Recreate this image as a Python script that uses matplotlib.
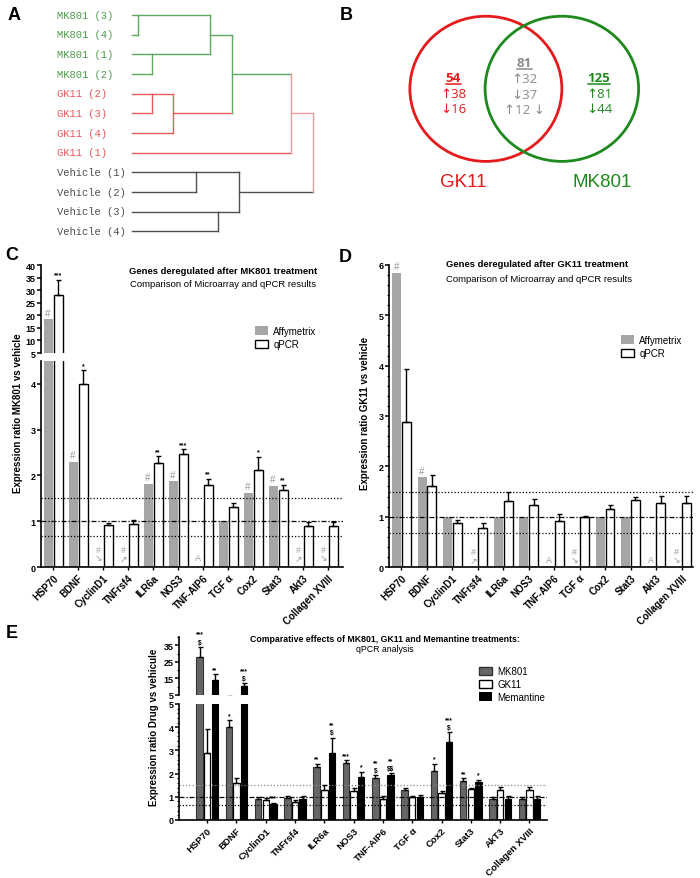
import numpy as np
import matplotlib.pyplot as plt
from matplotlib.patches import Ellipse, Patch
from matplotlib.ticker import MultipleLocator
from matplotlib.transforms import blended_transform_factory

plt.rcParams['font.family'] = ['Liberation Sans', 'DejaVu Sans']

# ---------------------------------------------------------
# Data
# ---------------------------------------------------------
leaves = ["MK801 (3)", "MK801 (4)", "MK801 (1)", "MK801 (2)",
          "GK11 (2)", "GK11 (3)", "GK11 (4)", "GK11 (1)",
          "Vehicle (1)", "Vehicle (2)", "Vehicle (3)", "Vehicle (4)"]
leaf_group = ["MK801"] * 4 + ["GK11"] * 4 + ["Vehicle"] * 4
# scipy-like linkage: (node a, node b, distance); new nodes numbered from 12
merges = [(0, 1, 0.06), (2, 3, 0.20), (12, 13, 0.78), (4, 5, 0.20), (15, 6, 0.41),
          (14, 16, 1.00), (17, 7, 1.59), (8, 9, 0.64), (10, 11, 0.86),
          (19, 20, 1.07), (18, 21, 1.81)]
merge_group = ["MK801", "MK801", "MK801", "GK11", "GK11", "MK801", "GK11b",
               "Vehicle", "Vehicle", "Vehicle", "root"]

venn_gk11_only = [54, 38, 16]
venn_shared = [81, 32, 37, 12]
venn_mk801_only = [125, 81, 44]

genes = ["HSP70", "BDNF", "CyclinD1", "TNFrsf4", "ILR6a", "NOS3", "TNF-AIP6",
         "TGF α", "Cox2", "Stat3", "Akt3", "Collagen XVIII"]
genes_e = ["HSP70", "BDNF", "CyclinD1", "TNFrsf4", "ILR6a", "NOS3", "TNF-AIP6",
           "TGF α", "Cox2", "Stat3", "AkT3", "Collagen XVIII"]
nan = np.nan

affy_mk801 = [18.5, 2.30, nan, nan, 1.82, 1.88, nan, 1.00, 1.62, 1.78, nan, nan]
affy_mk801_flags = ["#", "#", "#\n↘", "#\n↗", "#", "#", "A", "", "#", "#", "#\n↗", "#\n↘"]
qpcr_mk801 = [28.0, 4.00, 0.92, 0.94, 2.27, 2.47, 1.80, 1.30, 2.11, 1.68, 0.89, 0.89]
qpcr_mk801_err = [6.0, 0.30, 0.05, 0.08, 0.15, 0.10, 0.12, 0.10, 0.30, 0.12, 0.10, 0.10]
qpcr_mk801_stars = ["***", "*", "", "", "**", "***", "**", "", "*", "**", "", ""]

affy_gk11 = [5.85, 1.78, 1.00, nan, 1.00, 1.00, nan, nan, 1.00, 1.00, nan, nan]
affy_gk11_flags = ["#", "#", "", "#\n↗", "", "", "A", "#\n↘", "", "", "A", "#\n↘"]
qpcr_gk11 = [2.88, 1.61, 0.87, 0.77, 1.31, 1.24, 0.92, 0.99, 1.16, 1.33, 1.28, 1.28]
qpcr_gk11_err = [1.05, 0.22, 0.07, 0.10, 0.19, 0.12, 0.13, 0.03, 0.08, 0.07, 0.14, 0.14]

memantine = [14.0, 10.5, 0.70, 0.92, 2.90, 1.87, 1.94, 1.00, 3.37, 1.62, 0.90, 0.90]
memantine_err = [3.5, 1.5, 0.04, 0.11, 0.65, 0.21, 0.08, 0.09, 0.41, 0.10, 0.12, 0.12]
e_mk801_marks = ["***\n$", "*", "", "", "**", "***", "**\n$", "", "*", "**", "", ""]
e_mem_marks = ["**", "***\n$", "***", "", "**\n$", "*", "**\n$$", "", "***\n$", "*", "", ""]

# ---------------------------------------------------------
# Figure helpers
# ---------------------------------------------------------
W, H = 700, 879
fig = plt.figure(figsize=(W / 100, H / 100), dpi=100)


def px_axes(left, top, right, bottom):
    return fig.add_axes([left / W, 1 - bottom / H, (right - left) / W, (bottom - top) / H])


def fig_text(x, y, s, **kw):
    fig.text(x / W, 1 - y / H, s, **kw)


def style_axis(ax, yticks, minor=None, show_bottom=True):
    for s in ["top", "right"]:
        ax.spines[s].set_visible(False)
    ax.spines["left"].set_linewidth(1.2)
    ax.spines["bottom"].set_linewidth(1.2)
    ax.spines["bottom"].set_visible(show_bottom)
    ax.set_yticks(yticks, labels=[f"{t:g}" for t in yticks], fontweight="bold", fontsize=6.5)
    ax.tick_params(axis="y", direction="out", length=3, width=1.1, pad=1)
    ax.tick_params(axis="y", which="minor", direction="out", length=1.5, width=0.8)
    if minor:
        ax.yaxis.set_minor_locator(MultipleLocator(minor))


def add_bars(axes, xs, vals, errs, width, **kw):
    for ax in axes:
        ax.bar(xs, vals, width=width, **kw)
        if errs is not None:
            ax.errorbar(xs, vals, yerr=[np.zeros(len(vals)), errs], fmt="none",
                        ecolor="black", elinewidth=1, capsize=1.8, capthick=1)


def add_marks(ax_low, ax_up, brk, xs, tops, marks, size=5, color="black", weight="bold"):
    for x, t, m in zip(xs, tops, marks):
        if not m or np.isnan(t):
            continue
        ax = ax_up if (ax_up is not None and t > brk) else ax_low
        ax.annotate(m, (x, t), xytext=(0, 1), textcoords="offset points", ha="center",
                    va="bottom", fontsize=size, color=color, fontweight=weight,
                    linespacing=1.2, annotation_clip=False, parse_math=False)


def ref_lines(ax, c15="black"):
    ax.axhline(1.5, ls=(0, (1, 1.6)), color=c15, lw=0.9)
    ax.axhline(1.0, ls=(0, (4, 1.5, 1, 1.5)), color="black", lw=0.9)
    ax.axhline(0.667, ls=(0, (1, 1.6)), color="black", lw=0.9)


def missing_flags(ax, xs, vals, flags, y, size=6.5):
    for x, v, f in zip(xs, vals, flags):
        if f and np.isnan(v):
            ax.text(x, y, f, ha="center", va="bottom", fontsize=size, color="#9a9a9a",
                    linespacing=0.9)


# ---------------------------------------------------------
# A: dendrogram
# ---------------------------------------------------------
text_colors = {"MK801": "#4f9a4f", "GK11": "#e8585a", "Vehicle": "#505050"}
tree_colors = {"MK801": "#5fa85f", "GK11": "#e85a5a", "GK11b": "#f29a9a",
               "Vehicle": "#505050", "root": "#cfa6a6"}

ax_a = px_axes(132, 6, 313, 242)
ax_a.set_xlim(0, 1.81)
ax_a.set_ylim(11.5, -0.5)
ax_a.axis("off")
node_x = [0.0] * len(leaves)
node_y = [float(i) for i in range(len(leaves))]
node_c = [tree_colors[g] for g in leaf_group]
for (a, b, h), g in zip(merges, merge_group):
    c = tree_colors[g]
    ax_a.plot([node_x[a], h], [node_y[a]] * 2, color=node_c[a], lw=1, clip_on=False)
    ax_a.plot([node_x[b], h], [node_y[b]] * 2, color=node_c[b], lw=1, clip_on=False)
    ax_a.plot([h, h], [node_y[a], node_y[b]], color=c, lw=1, clip_on=False)
    both_leaves = a < len(leaves) and b < len(leaves)
    node_x.append(h)
    node_y.append(node_y[a] if both_leaves else (node_y[a] + node_y[b]) / 2)
    node_c.append(c)
trans_a = blended_transform_factory(fig.transFigure, ax_a.transData)
for i, (lab, g) in enumerate(zip(leaves, leaf_group)):
    ax_a.text(57 / W, i, lab, transform=trans_a, family="Liberation Mono", fontsize=7.6,
              color=text_colors[g], va="center", ha="left")

# ---------------------------------------------------------
# B: Venn diagram
# ---------------------------------------------------------
red, green, grey = "#e41a1c", "#1e8a1e", "#8c8c8c"
ax_b = px_axes(400, 10, 650, 200)
ax_b.set_xlim(-1.63, 1.66)
ax_b.set_ylim(-1.45, 1.05)
ax_b.axis("off")
ax_b.add_patch(Ellipse((-0.5, 0), 2.0, 1.91, fill=False, ec=red, lw=2))
ax_b.add_patch(Ellipse((0.5, 0), 2.02, 1.91, fill=False, ec=green, lw=2))

venn_texts = []


def venn_block(x, y0, counts, color, arrows):
    t = ax_b.text(x, y0, str(counts[0]), ha="center", va="center", fontsize=9.5,
                  fontweight="bold", color=color, family=["Open Sans", "DejaVu Sans"])
    venn_texts.append((t, color))
    for k, (arr, n) in enumerate(zip(arrows, counts[1:])):
        ax_b.text(x, y0 - 0.205 * (k + 1), arr.format(n), ha="center", va="center",
                  fontsize=9.5, color=color, family=["Open Sans", "DejaVu Sans"])


venn_block(-0.93, 0.145, venn_gk11_only, red, ["↑{}", "↓{}"])
venn_block(0.01, 0.34, venn_shared, grey, ["↑{}", "↓{}", "↑{} ↓"])
venn_block(0.99, 0.145, venn_mk801_only, green, ["↑{}", "↓{}"])
ax_b.text(-0.80, -1.22, "GK11", ha="center", va="center", fontsize=13.5, color=red)
ax_b.text(1.03, -1.22, "MK801", ha="center", va="center", fontsize=13.5, color=green)

# underline the counts
fig.canvas.draw()
inv = ax_b.transData.inverted()
for t, color in venn_texts:
    bb = t.get_window_extent()
    (x0, y0), (x1, _) = inv.transform([(bb.x0, bb.y0), (bb.x1, bb.y1)])
    ax_b.plot([x0, x1], [y0 + 0.01, y0 + 0.01], color=color, lw=1.1)

# ---------------------------------------------------------
# C: MK801 microarray vs qPCR
# ---------------------------------------------------------
x = np.arange(len(genes))
c_up = px_axes(41, 266, 343, 354)
c_low = px_axes(41, 362, 343, 568)
for ax in (c_up, c_low):
    ax.set_xlim(-0.48, 11.6)
c_up.set_ylim(5, 40)
c_low.set_ylim(0, 4.5)
ref_lines(c_low)
add_bars((c_up, c_low), x - 0.2, affy_mk801, None, 0.36, color="#a6a6a6")
add_bars((c_up, c_low), x + 0.2, qpcr_mk801, qpcr_mk801_err, 0.36, color="white",
         edgecolor="black", linewidth=1)
style_axis(c_up, [5, 10, 15, 20, 25, 30, 35, 40], show_bottom=False)
style_axis(c_low, [0, 1, 2, 3, 4])
c_up.set_xticks([])
c_low.set_xticks(x, labels=genes, rotation=45, ha="right", rotation_mode="anchor",
                 fontweight="bold", fontsize=7)
c_low.tick_params(axis="x", length=2, width=1, pad=2)
add_marks(c_low, c_up, 4.5, x - 0.2, affy_mk801,
          [f if f == "#" else "" for f in affy_mk801_flags], size=7, color="#9a9a9a", weight="normal")
add_marks(c_low, c_up, 4.5, x + 0.2, np.add(qpcr_mk801, qpcr_mk801_err), qpcr_mk801_stars)
missing_flags(c_low, x - 0.2, affy_mk801, affy_mk801_flags, 0.1)
fig_text(18, 413, "Expression ratio MK801 vs vehicle", rotation=90, ha="center", va="center",
         fontsize=7, fontweight="bold")
fig_text(223, 272, "Genes deregulated after MK801 treatment", ha="center", va="center",
         fontsize=6.8, fontweight="bold")
fig_text(223, 285, "Comparison of Microarray and qPCR results", ha="center", va="center",
         fontsize=6.8)
fig.legend(handles=[Patch(facecolor="#a6a6a6", label="Affymetrix"),
                    Patch(facecolor="white", edgecolor="black", label="qPCR")],
           loc="upper left", bbox_to_anchor=(255 / W, 1 - 327 / H), frameon=False,
           fontsize=7, handlelength=1.3, handleheight=1.0, handletextpad=0.6,
           labelspacing=0.35, borderaxespad=0, borderpad=0)

# ---------------------------------------------------------
# D: GK11 microarray vs qPCR
# ---------------------------------------------------------
d_ax = px_axes(389, 266, 693, 568)
d_ax.set_xlim(-0.49, 11.45)
d_ax.set_ylim(0, 6)
ref_lines(d_ax)
add_bars((d_ax,), x - 0.19, affy_gk11, None, 0.35, color="#a6a6a6")
add_bars((d_ax,), x + 0.19, qpcr_gk11, qpcr_gk11_err, 0.35, color="white",
         edgecolor="black", linewidth=1)
style_axis(d_ax, [0, 1, 2, 3, 4, 5, 6], minor=0.2)
d_ax.set_xticks(x, labels=genes, rotation=45, ha="right", rotation_mode="anchor",
                fontweight="bold", fontsize=7)
d_ax.tick_params(axis="x", length=2, width=1, pad=2)
add_marks(d_ax, None, 6, x - 0.19, affy_gk11,
          [f if f == "#" else "" for f in affy_gk11_flags], size=7, color="#9a9a9a", weight="normal")
missing_flags(d_ax, x - 0.19, affy_gk11, affy_gk11_flags, 0.05)
fig_text(365, 413, "Expression ratio GK11 vs vehicle", rotation=90, ha="center", va="center",
         fontsize=7, fontweight="bold")
fig_text(446, 265, "Genes deregulated after GK11 treatment", ha="left", va="center",
         fontsize=6.8, fontweight="bold")
fig_text(446, 280, "Comparison of Microarray and qPCR results", ha="left", va="center",
         fontsize=6.8)
fig.legend(handles=[Patch(facecolor="#a6a6a6", label="Affymetrix"),
                    Patch(facecolor="white", edgecolor="black", label="qPCR")],
           loc="upper left", bbox_to_anchor=(621 / W, 1 - 336 / H), frameon=False,
           fontsize=7, handlelength=1.3, handleheight=1.0, handletextpad=0.6,
           labelspacing=0.35, borderaxespad=0, borderpad=0)

# ---------------------------------------------------------
# E: MK801 / GK11 / Memantine qPCR
# ---------------------------------------------------------
e_up = px_axes(179, 638, 547, 696)
e_low = px_axes(179, 705, 547, 821)
for ax in (e_up, e_low):
    ax.set_xlim(-0.96, 11.6)
e_up.set_ylim(5, 40)
e_low.set_ylim(0, 5)
ref_lines(e_low, c15="#8a8a8a")
add_bars((e_up, e_low), x - 0.26, qpcr_mk801, qpcr_mk801_err, 0.22, color="#666666",
         edgecolor="#333333", linewidth=0.8)
add_bars((e_up, e_low), x, qpcr_gk11, qpcr_gk11_err, 0.22, color="white",
         edgecolor="black", linewidth=0.9)
add_bars((e_up, e_low), x + 0.26, memantine, memantine_err, 0.22, color="black",
         edgecolor="black", linewidth=0.8)
style_axis(e_up, [5, 15, 25, 35], minor=5, show_bottom=False)
style_axis(e_low, [0, 1, 2, 3, 4, 5], minor=0.2)
e_up.set_xticks([])
e_low.set_xticks(x, labels=genes_e, rotation=45, ha="right", rotation_mode="anchor",
                 fontweight="bold", fontsize=6.8)
e_low.tick_params(axis="x", length=2, width=1, pad=2)
add_marks(e_low, e_up, 5, x - 0.26, np.add(qpcr_mk801, qpcr_mk801_err), e_mk801_marks, size=4.8)
add_marks(e_low, e_up, 5, x + 0.26, np.add(memantine, memantine_err), e_mem_marks, size=4.8)
fig_text(154, 727, "Expression ratio Drug vs vehicule", rotation=90, ha="center", va="center",
         fontsize=7, fontweight="bold")
fig_text(385, 639, "Comparative effects of MK801, GK11 and Memantine treatments:",
         ha="center", va="center", fontsize=6.3, fontweight="bold")
fig_text(385, 650, "qPCR analysis", ha="center", va="center", fontsize=6.3)
fig.legend(handles=[Patch(facecolor="#666666", edgecolor="#333333", label="MK801"),
                    Patch(facecolor="white", edgecolor="black", label="GK11"),
                    Patch(facecolor="black", label="Memantine")],
           loc="upper left", bbox_to_anchor=(479 / W, 1 - 667 / H), frameon=False,
           fontsize=7, handlelength=1.3, handleheight=0.9, handletextpad=0.6,
           labelspacing=0.3, borderaxespad=0, borderpad=0)

# ---------------------------------------------------------
# Panel letters
# ---------------------------------------------------------
for lab, px, py in [("A", 14, 15), ("B", 346, 15), ("C", 12, 256), ("D", 345, 258), ("E", 12, 634)]:
    fig_text(px, py, lab, ha="center", va="center", fontsize=13, fontweight="bold")

fig.savefig("out.png", dpi=100)
